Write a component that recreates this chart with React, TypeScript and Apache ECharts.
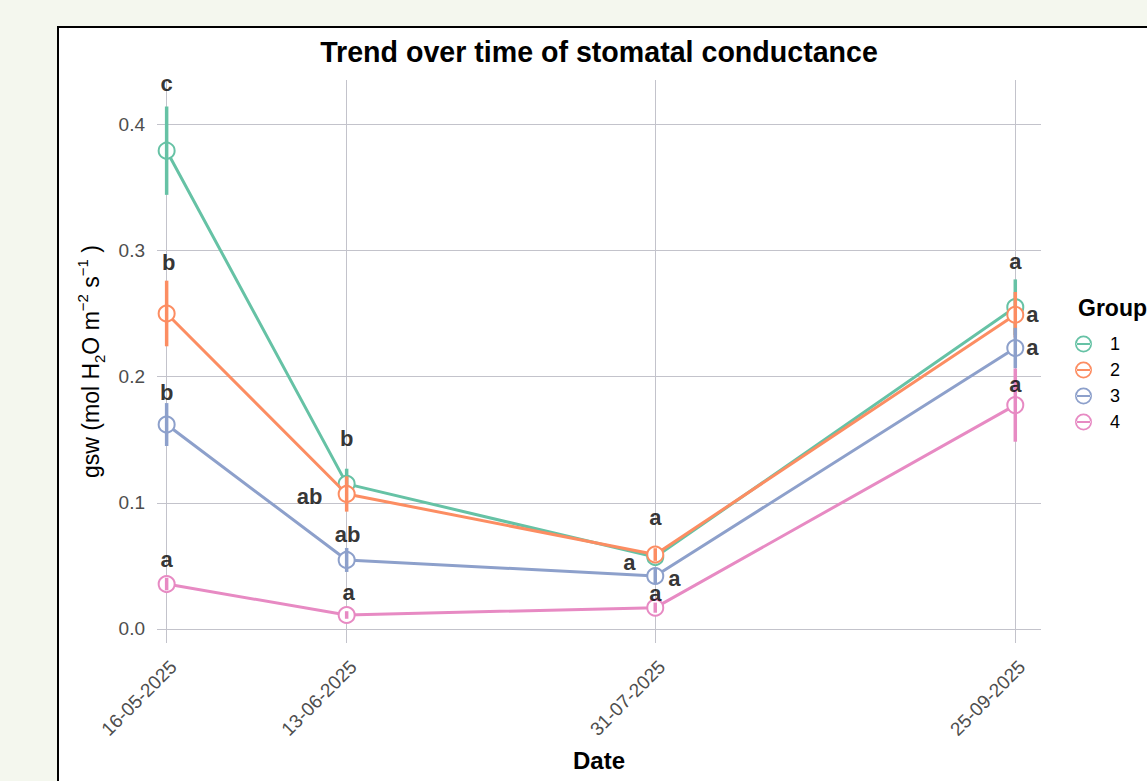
import React, { useEffect, useRef } from 'react';
import * as echarts from 'echarts';

// ---------- data ----------
const dates = ['16-05-2025', '13-06-2025', '31-07-2025', '25-09-2025'];
const groups = ['1', '2', '3', '4'];

const mean1 = [0.379, 0.115, 0.057, 0.255];
const mean2 = [0.250, 0.107, 0.059, 0.249];
const mean3 = [0.162, 0.0547, 0.042, 0.2226];
const mean4 = [0.0356, 0.0111, 0.0169, 0.1774];

const se1 = [0.035, 0.012, 0.005, 0.022];
const se2 = [0.026, 0.014, 0.005, 0.018];
const se3 = [0.017, 0.0095, 0.006, 0.016];
const se4 = [0.005, 0.003, 0.004, 0.029];

const letters1 = ['c', 'b', 'a', 'a'];
const letters2 = ['b', 'ab', 'a', 'a'];
const letters3 = ['b', 'ab', 'a', 'a'];
const letters4 = ['a', 'a', 'a', 'a'];

// y position (data units) at which each letter was drawn
const letterY1 = [0.4325, 0.151, 0.053, 0.291];
const letterY2 = [0.290, 0.105, 0.088, 0.249];
const letterY3 = [0.187, 0.0745, 0.040, 0.2234];
const letterY4 = [0.0547, 0.0293, 0.0285, 0.194];

// ---------- layout / style ----------
const letterNudgeX = [
  [0, 0, -26, 0],
  [2, -37, 0, 17],
  [0, 1, 19, 17],
  [0, 2, 0, 0],
];
const colors = ['#66c2a5', '#fc8d62', '#8da0cb', '#e78ac3'];
const FONT = '"Liberation Sans", Arial, Helvetica, sans-serif';
const GRID_COLOR = '#c3c3cb';
const AXIS_START_DAY = -1.5;
const AXIS_END_DAY = 136;
const DAY_STEP = 0.5;
// legend key: open circle crossed by a horizontal line (point + line key)
const KEY_ICON =
  'path://M1,10 A9,9 0 1,0 19,10 A9,9 0 1,0 1,10 Z ' +
  'M2.9,10 A7.1,7.1 0 1,1 17.1,10 A7.1,7.1 0 1,1 2.9,10 Z ' +
  'M2.5,8.9 L17.5,8.9 L17.5,11.1 L2.5,11.1 Z';

const means = [mean1, mean2, mean3, mean4];
const ses = [se1, se2, se3, se4];
const letters = [letters1, letters2, letters3, letters4];
const letterYs = [letterY1, letterY2, letterY3, letterY4];

const parseDay = (s: string) => {
  const [d, m, y] = s.split('-').map(Number);
  return Date.UTC(y, m - 1, d) / 86400000;
};
const day0 = parseDay(dates[0]);
const dayOffsets = dates.map((d) => parseDay(d) - day0);

const categories: string[] = [];
for (let t = AXIS_START_DAY; t <= AXIS_END_DAY + 1e-9; t += DAY_STEP) {
  const i = dayOffsets.indexOf(t);
  categories.push(i >= 0 ? dates[i] : 't' + t);
}
const isDate = (_i: number, v: string) => dates.includes(v);

export default function App() {
  const ref = useRef<HTMLDivElement>(null);

  useEffect(() => {
    if (!ref.current) return;
    const chart = echarts.init(ref.current, undefined, { renderer: 'svg' });

    const series: any[] = [];
    groups.forEach((g, gi) => {
      series.push({
        name: g,
        type: 'line',
        data: dates.map((d, i) => [d, means[gi][i]]),
        symbol: 'emptyCircle',
        symbolSize: 16,
        lineStyle: { width: 3, color: colors[gi] },
        itemStyle: { color: colors[gi], borderWidth: 2 },
        z: 2 + gi * 2,
      });
      series.push({
        name: 'err' + g,
        type: 'custom',
        data: dates.map((d, i) => [d, means[gi][i] - ses[gi][i], means[gi][i] + ses[gi][i]]),
        encode: { x: 0, y: [1, 2] },
        z: 3 + gi * 2,
        renderItem: (_params: any, api: any) => {
          const p1 = api.coord([api.value(0), api.value(1)]);
          const p2 = api.coord([api.value(0), api.value(2)]);
          return {
            type: 'line',
            shape: { x1: p1[0], y1: p1[1], x2: p2[0], y2: p2[1] },
            style: { stroke: colors[gi], lineWidth: 3.5 },
          };
        },
      });
      series.push({
        name: 'lab' + g,
        type: 'scatter',
        symbolSize: 1,
        itemStyle: { color: 'transparent' },
        z: 20,
        data: dates.map((d, i) => ({
          name: letters[gi][i],
          value: [d, letterYs[gi][i]],
          label: { offset: [letterNudgeX[gi][i], 0] },
        })),
        label: {
          show: true,
          position: 'inside',
          formatter: '{b}',
          color: '#000',
          fontSize: 22,
          fontWeight: 'bold',
          fontFamily: FONT,
        },
      });
    });

    chart.setOption({
      animation: false,
      backgroundColor: '#f4f7ee',
      textStyle: { fontFamily: FONT },
      grid: { left: 157, right: 106, top: 80, bottom: 138, outerBoundsMode: 'none', containLabel: false },
      graphic: [
        {
          type: 'rect',
          z: 0,
          shape: { x: 58, y: 27, width: 1200, height: 900 },
          style: { fill: '#ffffff', stroke: '#000000', lineWidth: 2 },
        },
        {
          type: 'text',
          z: 10,
          x: 599,
          y: 52,
          style: {
            text: 'Trend over time of stomatal conductance',
            fontSize: 28.6,
            fontWeight: 'bold',
            fontFamily: FONT,
            fill: '#000',
            align: 'center',
            verticalAlign: 'middle',
          },
        },
        {
          type: 'text',
          z: 10,
          x: 1078,
          y: 308,
          style: {
            text: 'Group',
            fontSize: 23,
            fontWeight: 'bold',
            fontFamily: FONT,
            fill: '#000',
            align: 'left',
            verticalAlign: 'middle',
          },
        },
      ],
      legend: {
        data: groups.map((g) => ({ name: g, icon: KEY_ICON })),
        orient: 'vertical',
        left: 1070,
        top: 330,
        itemWidth: 21,
        itemHeight: 17,
        itemGap: 8,
        itemStyle: { borderWidth: 0 },
        textStyle: { fontSize: 18, color: '#000', fontFamily: FONT, padding: [0, 0, 0, 11] },
      },
      xAxis: {
        type: 'category',
        data: categories,
        boundaryGap: false,
        axisLine: { show: false },
        axisTick: { show: false },
        axisLabel: {
          interval: isDate,
          rotate: 45,
          fontSize: 19,
          color: '#4d4d4d',
          margin: 14,
          verticalAlign: 'top',
          fontFamily: FONT,
        },
        splitLine: { show: true, interval: isDate, lineStyle: { color: GRID_COLOR, width: 1 } },
        name: 'Date',
        nameLocation: 'middle',
        nameGap: 105,
        nameTextStyle: { fontSize: 24, fontWeight: 'bold', color: '#000', fontFamily: FONT },
      },
      yAxis: {
        type: 'value',
        min: -0.0111,
        max: 0.435,
        minInterval: 0.1,
        maxInterval: 0.1,
        axisLine: { show: false },
        axisTick: { show: false },
        axisLabel: {
          formatter: (v: number) => v.toFixed(1),
          fontSize: 19,
          color: '#4d4d4d',
          margin: 12,
          fontFamily: FONT,
          showMinLabel: false,
          showMaxLabel: false,
        },
        splitLine: { show: true, showMinLine: false, showMaxLine: false, lineStyle: { color: GRID_COLOR, width: 1 } },
        name: '{n|gsw (mol H}{sb|2}{n|O m}{sp|−2}{n| s}{sp|−1}{n| )}',
        nameLocation: 'middle',
        nameGap: 50,
        nameRotate: 90,
        nameTextStyle: {
          color: '#000',
          fontSize: 23,
          fontFamily: FONT,
          rich: {
            n: { fontSize: 23, lineHeight: 32, fontFamily: FONT, color: '#000' },
            sb: { fontSize: 15, lineHeight: 22, verticalAlign: 'bottom', fontFamily: FONT, color: '#000' },
            sp: { fontSize: 15, lineHeight: 15, verticalAlign: 'top', fontFamily: FONT, color: '#000' },
          },
        },
      },
      series,
    });

    return () => chart.dispose();
  }, []);

  return (
    <div
      ref={ref}
      style={{ position: 'fixed', left: 0, top: 0, width: 1147, height: 781 }}
    />
  );
}
